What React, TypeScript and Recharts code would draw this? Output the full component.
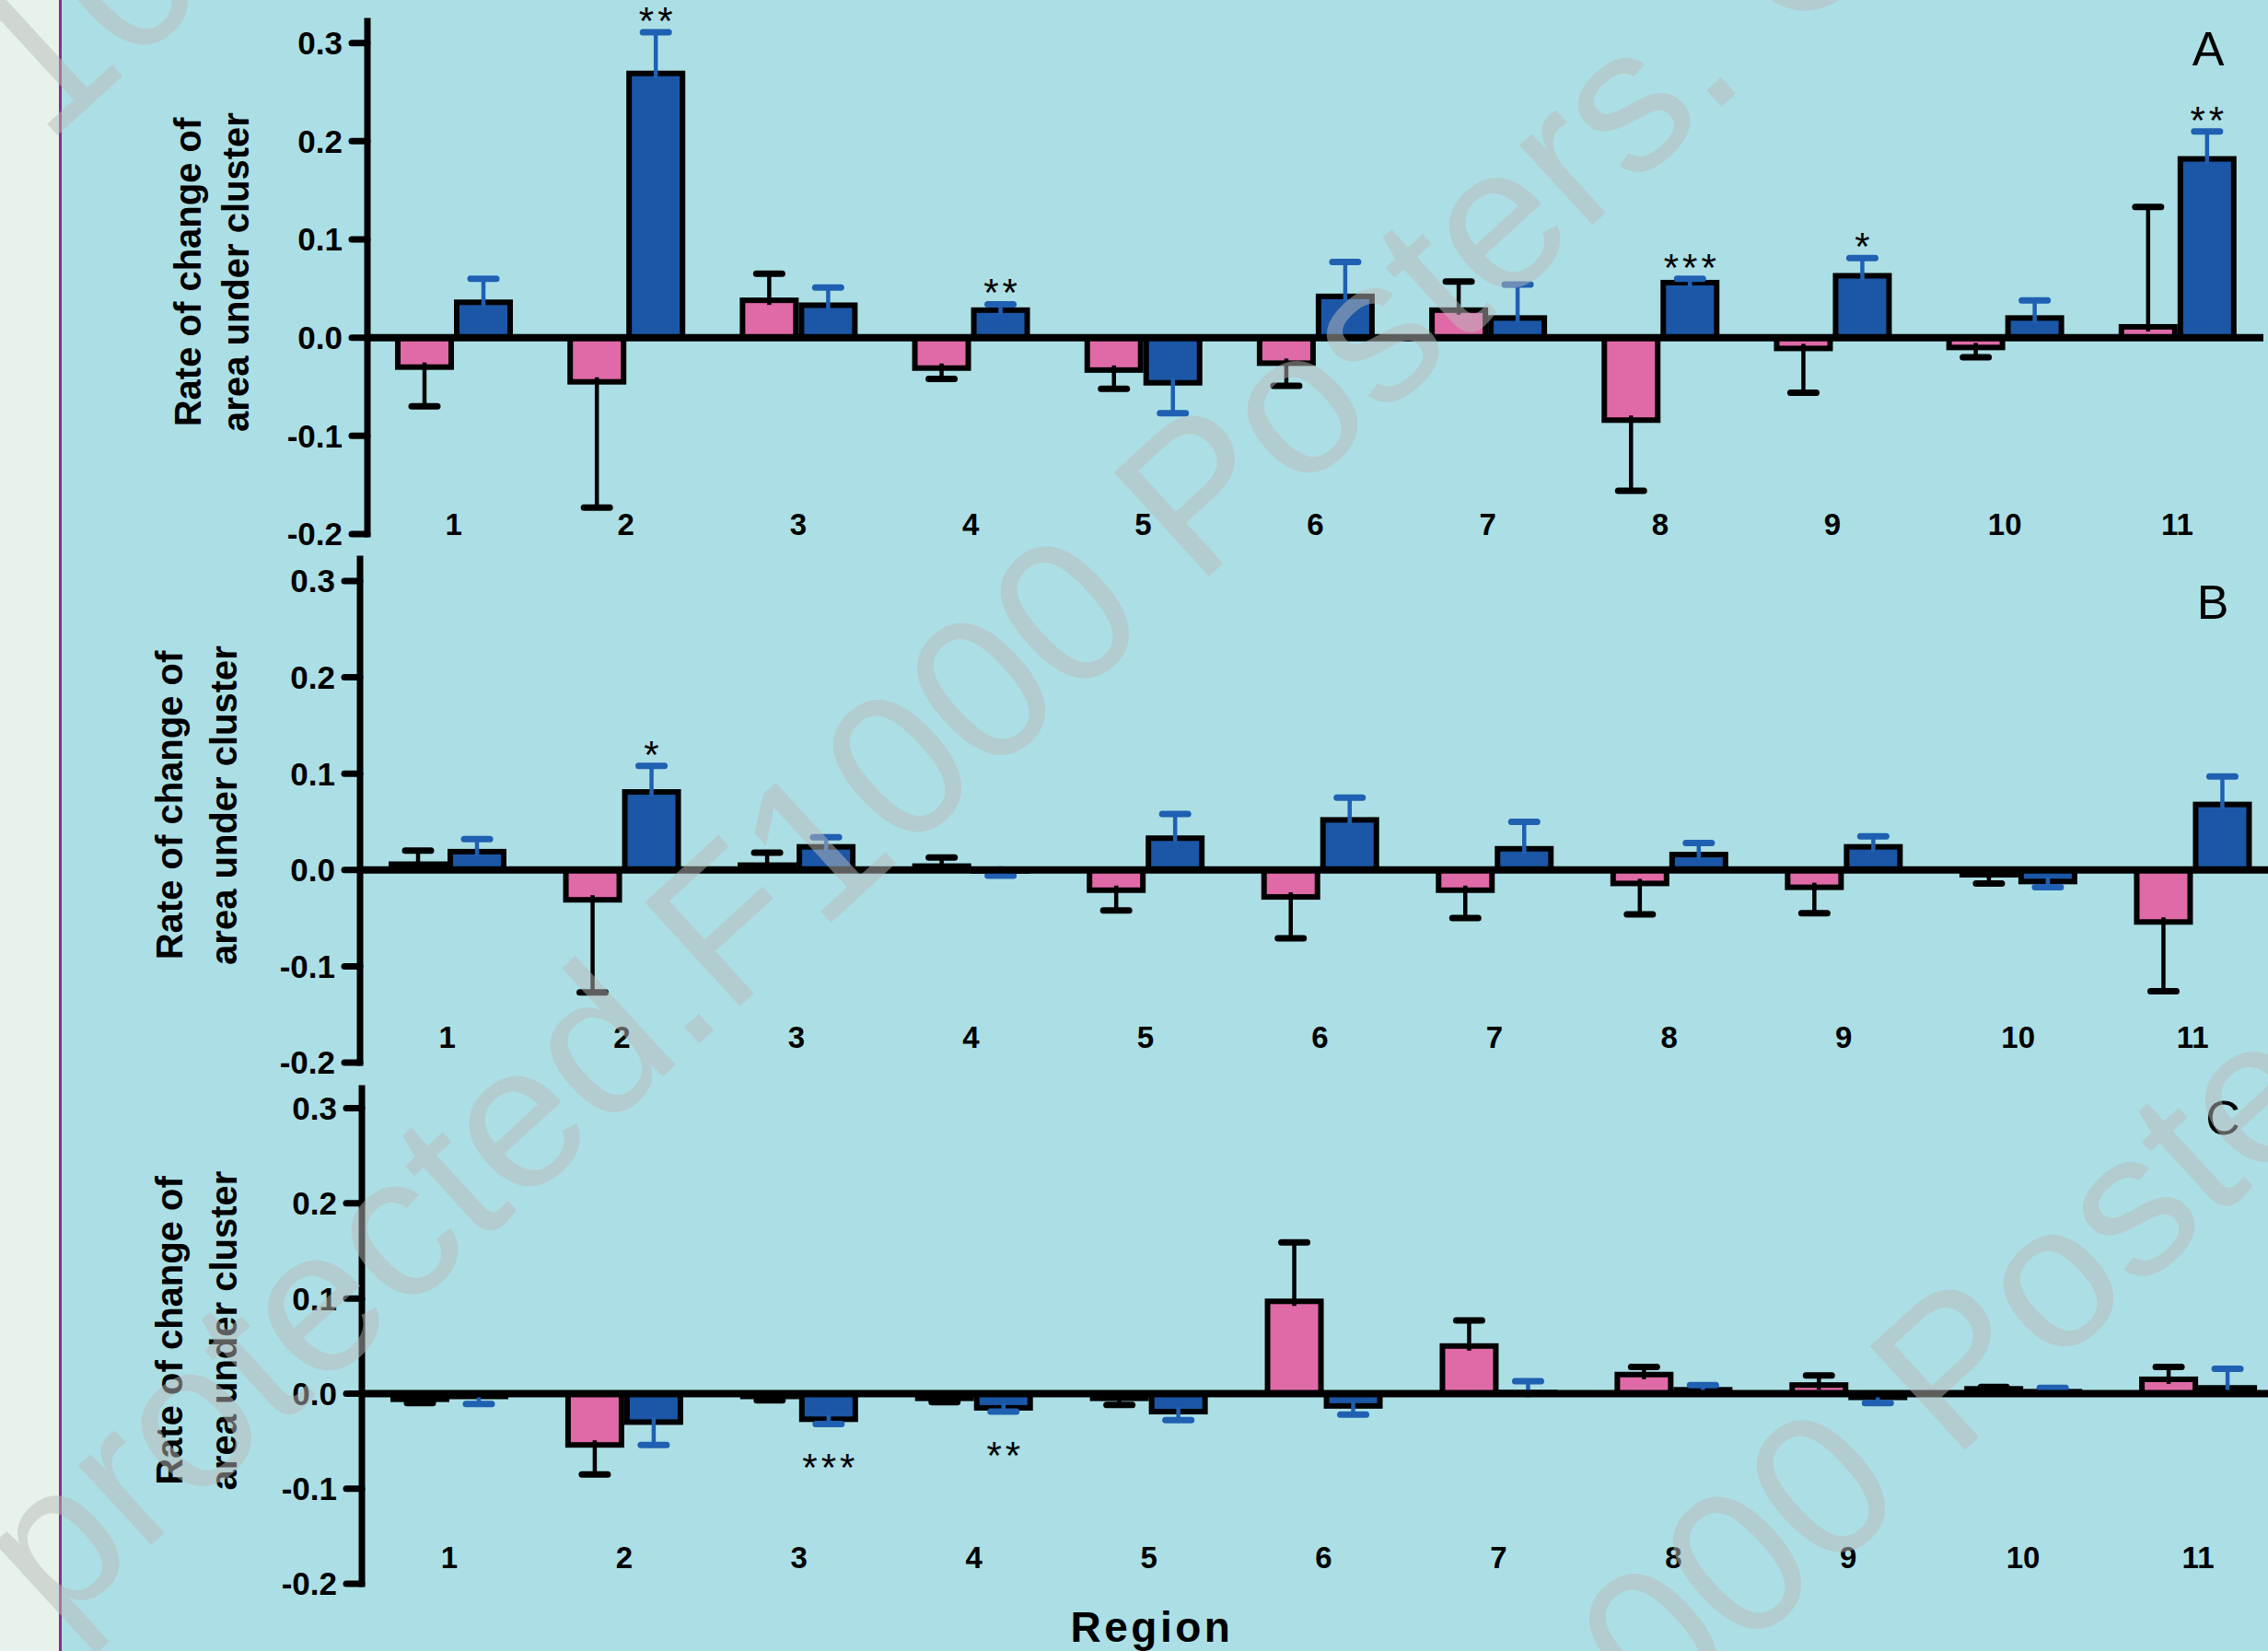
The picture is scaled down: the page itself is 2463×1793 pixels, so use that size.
import { Bar, BarChart, ReferenceLine, XAxis, YAxis } from 'recharts'

const FONT = "'Liberation Sans', Arial, sans-serif"
const BG = '#acdfe5'
const PINK = '#e06aa8'
const BLUE = '#1b57a6'
const ERR_BLUE = '#1f60b2'

const REGIONS = ['1', '2', '3', '4', '5', '6', '7', '8', '9', '10', '11']
const Y_TICKS = [-0.2, -0.1, 0, 0.1, 0.2, 0.3]

// Panel A
const A_PINK = [-0.030, -0.045, 0.038, -0.031, -0.033, -0.026, 0.028, -0.084, -0.011, -0.010, 0.011]
const A_PINK_ERR = [0.040, 0.128, 0.027, 0.011, 0.019, 0.023, 0.029, 0.072, 0.045, 0.010, 0.122]
const A_BLUE = [0.036, 0.269, 0.033, 0.028, -0.046, 0.042, 0.020, 0.056, 0.063, 0.020, 0.182]
const A_BLUE_ERR = [0.024, 0.042, 0.018, 0.006, 0.031, 0.035, 0.034, 0.004, 0.018, 0.018, 0.028]
const A_SIG = ['', '**', '', '**', '', '', '', '***', '*', '', '**']

// Panel B
const B_PINK = [0.006, -0.031, 0.005, 0.004, -0.021, -0.028, -0.021, -0.014, -0.018, -0.005, -0.054]
const B_PINK_ERR = [0.014, 0.096, 0.013, 0.009, 0.021, 0.043, 0.029, 0.032, 0.027, 0.009, 0.072]
const B_BLUE = [0.019, 0.081, 0.024, -0.001, 0.033, 0.052, 0.022, 0.016, 0.024, -0.012, 0.068]
const B_BLUE_ERR = [0.013, 0.027, 0.010, 0.005, 0.025, 0.023, 0.028, 0.012, 0.011, 0.006, 0.029]
const B_SIG = ['', '*', '', '', '', '', '', '', '', '', '']

// Panel C
const C_PINK = [-0.006, -0.054, -0.003, -0.005, -0.005, 0.097, 0.050, 0.020, 0.009, 0.005, 0.015]
const C_PINK_ERR = [0.004, 0.031, 0.004, 0.004, 0.007, 0.062, 0.027, 0.008, 0.010, 0.002, 0.013]
const C_BLUE = [-0.003, -0.030, -0.027, -0.015, -0.019, -0.013, 0.001, 0.004, -0.004, 0.002, 0.006]
const C_BLUE_ERR = [0.008, 0.024, 0.005, 0.004, 0.009, 0.009, 0.012, 0.005, 0.006, 0.004, 0.020]
const C_SIG = ['', '', '***', '**', '', '', '', '', '', '', '']

const rows = (pink, pinkErr, blue, blueErr, sig) =>
  REGIONS.map((region, i) => ({
    region,
    pink: pink[i],
    pinkErr: pinkErr[i],
    blue: blue[i],
    blueErr: blueErr[i],
    sig: sig[i],
  }))

const PANELS = [
  { id: 'A', data: rows(A_PINK, A_PINK_ERR, A_BLUE, A_BLUE_ERR, A_SIG), top: 0, width: 2463, height: 600, mTop: 23, mRight: 5, axisX: 399, yMax: 0.3222, lift: -1, t1: 204, t2: 256 },
  { id: 'B', data: rows(B_PINK, B_PINK_ERR, B_BLUE, B_BLUE_ERR, B_SIG), top: 590, width: 2476, height: 584, mTop: 17, mRight: 0, axisX: 391, yMax: 0.3229, lift: 16, t1: 184, t2: 243 },
  { id: 'C', data: rows(C_PINK, C_PINK_ERR, C_BLUE, C_BLUE_ERR, C_SIG), top: 1170, width: 2482, height: 570, mTop: 12, mRight: 0, axisX: 393, yMax: 0.3209, lift: 17, t1: 184, t2: 243 },
]

// bar with a one-sided error bar (away from zero) and optional significance stars
const barShape = (valKey, errKey, errColor, withSig) => (props) => {
  const { x, y, width, height, payload, fill } = props
  const v = payload[valKey]
  const e = payload[errKey]
  const top = Math.min(y, y + height)
  const bottom = Math.max(y, y + height)
  const len = bottom - top
  const ppu = Math.abs(v) > 0 ? len / Math.abs(v) : 0
  const cx = x + width / 2
  const up = v >= 0
  const end = up ? top : bottom
  const tip = up ? end - e * ppu : end + e * ppu
  const inner = up ? end + 5 : end - 5
  const sig = withSig ? payload.sig : ''
  return (
    <g>
      <rect x={x} y={top} width={width} height={len} fill={fill} stroke="#000" strokeWidth={6} />
      <line x1={cx} x2={cx} y1={inner} y2={tip} stroke={errColor} strokeWidth={4.5} />
      <line x1={cx - 14} x2={cx + 14} y1={tip} y2={tip} stroke={errColor} strokeWidth={7} strokeLinecap="round" />
      {sig ? (
        <text x={cx + 2} y={up ? tip + 2 : tip + 62} textAnchor="middle" fontSize={42}
          letterSpacing={4} fontFamily={FONT} fill="#000">
          {sig}
        </text>
      ) : null}
    </g>
  )
}

function RegionTick({ x, y, payload, lift }) {
  return (
    <text x={x} y={y - lift} textAnchor="middle" fontSize={33} fontWeight="bold" fontFamily={FONT} fill="#000">
      {payload.value}
    </text>
  )
}

function YTitle({ viewBox, t1, t2 }) {
  const cy = viewBox.y + viewBox.height / 2 - 6
  const common = { fontSize: 40, fontWeight: 'bold', fontFamily: FONT, fill: '#000', textAnchor: 'middle', dominantBaseline: 'central' }
  return (
    <g>
      <text x={t1} y={cy} transform={`rotate(-90 ${t1} ${cy})`} {...common}>Rate of change of</text>
      <text x={t2} y={cy} transform={`rotate(-90 ${t2} ${cy})`} {...common}>area under cluster</text>
    </g>
  )
}

function Panel({ p }) {
  return (
    <div style={{ position: 'absolute', left: 0, top: p.top }}>
      <BarChart width={p.width} height={p.height} data={p.data} barSize={58} barGap={6}
        margin={{ top: p.mTop, right: p.mRight, bottom: 0, left: 0 }}>
        <XAxis dataKey="region" height={20} interval={0} axisLine={false} tickLine={false}
          tickSize={0} tickMargin={0} tick={<RegionTick lift={p.lift} />} />
        <YAxis
          type="number"
          domain={[-0.2, p.yMax]}
          ticks={Y_TICKS}
          width={p.axisX}
          tickFormatter={(v) => Number(v).toFixed(1)}
          tick={{ fill: '#000', fontSize: 35, fontWeight: 'bold', fontFamily: FONT }}
          tickSize={17}
          tickMargin={10}
          tickLine={{ stroke: '#000', strokeWidth: 7, strokeLinecap: 'round' }}
          axisLine={{ stroke: '#000', strokeWidth: 7, strokeLinecap: 'square' }}
          label={{ content: (lp) => <YTitle viewBox={lp.viewBox} t1={p.t1} t2={p.t2} /> }}
        />
        <Bar dataKey="pink" fill={PINK} isAnimationActive={false}
          shape={barShape('pink', 'pinkErr', '#000', false)} />
        <Bar dataKey="blue" fill={BLUE} isAnimationActive={false}
          shape={barShape('blue', 'blueErr', ERR_BLUE, true)} />
        <ReferenceLine y={0} stroke="#000" strokeWidth={8} />
      </BarChart>
    </div>
  )
}

const WM_TEXT_AFTER = 'F1000 Posters. Copyright protected. F1000 Posters.'
const WM_TEXT_BEFORE = 'F1000 Posters. Copyright protected. '
const WM_ANCHORS = [
  [-50, 250],
  [790, 1105],
  [1611, 2054],
]

export default function App() {
  return (
    <div style={{ position: 'fixed', left: 0, top: 0, width: 2463, height: 1793, overflow: 'hidden', background: BG }}>
      <div style={{ position: 'absolute', left: 0, top: 0, width: 64, height: 1793, background: '#e7f3ea' }} />
      <div style={{ position: 'absolute', left: 64, top: 0, width: 3, height: 1793, background: '#8c2a8c' }} />
      {PANELS.map((p) => (
        <Panel key={p.id} p={p} />
      ))}
      <svg width={2463} height={1793} style={{ position: 'absolute', left: 0, top: 0, pointerEvents: 'none' }}>
        <text x={2398} y={71} textAnchor="middle" fontSize={52} fontFamily={FONT} fill="#000">A</text>
        <text x={2403} y={672} textAnchor="middle" fontSize={52} fontFamily={FONT} fill="#000">B</text>
        <text x={2414} y={1232} textAnchor="middle" fontSize={52} fontFamily={FONT} fill="#000">C</text>
        <text x={1251} y={1783} textAnchor="middle" fontSize={46} fontWeight="bold" letterSpacing={3.5}
          fontFamily={FONT} fill="#000">Region</text>
        {WM_ANCHORS.map(([x, y], i) => (
          <g key={i} transform={`translate(${x} ${y}) rotate(-42.5)`} fill="rgb(185,185,185)" fillOpacity={0.5}
            fontSize={222} fontFamily={FONT}>
            <text x={0} y={0} textAnchor="start">{WM_TEXT_AFTER}</text>
            <text x={0} y={0} textAnchor="end">{WM_TEXT_BEFORE}</text>
          </g>
        ))}
      </svg>
    </div>
  )
}
